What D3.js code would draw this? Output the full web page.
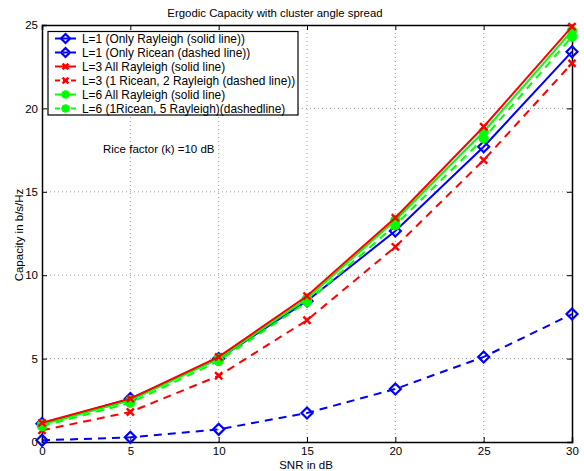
<!DOCTYPE html>
<html><head><meta charset="utf-8">
<script src="https://cdn.jsdelivr.net/npm/d3@7"></script>
<style>body{margin:0;background:#fff}svg{display:block}text{font-family:"Liberation Sans",Arial,sans-serif}</style>
</head><body>
<script>
const snr = [0, 5, 10, 15, 20, 25, 30];
const l1Rayleigh = [1.1, 2.6, 5.0, 8.45, 12.65, 17.7, 23.4];
const l1Ricean = [0.1, 0.28, 0.76, 1.74, 3.18, 5.1, 7.67];
const l3Rayleigh = [1.15, 2.6, 5.1, 8.75, 13.45, 18.9, 24.9];
const l3Mixed = [0.7, 1.8, 3.97, 7.3, 11.7, 16.9, 22.7];
const l6Rayleigh = [1.05, 2.5, 5.0, 8.6, 13.3, 18.6, 24.65];
const l6Mixed = [0.95, 2.35, 4.85, 8.4, 13.0, 18.2, 24.3];
const xTicks = [0, 5, 10, 15, 20, 25, 30];
const yTicks = [0, 5, 10, 15, 20, 25];
const seriesNames = ["L=1 (Only Rayleigh (solid line))","L=1 (Only Ricean (dashed line))","L=3 All Rayleigh (solid line)","L=3 (1 Ricean, 2 Rayleigh (dashed line))","L=6 All Rayleigh (solid line)","L=6 (1Ricean, 5 Rayleigh)(dashedline)"];
const seriesValues = [l1Rayleigh, l1Ricean, l3Rayleigh, l3Mixed, l6Rayleigh, l6Mixed];
const seriesColors = ["#0000ff","#0000ff","#ff0000","#ff0000","#00ff00","#00ff00"];
const seriesDashed = [false,true,false,true,false,true];
const seriesMarker = ["diamond","diamond","x","x","circle","circle"];

const W=584,H=471, L=42,R=572,T=25,B=442;
const svg=d3.select("body").append("svg").attr("width",W).attr("height",H);
const x=d3.scaleLinear().domain([0,30]).range([L,R]);
const y=d3.scaleLinear().domain([0,25]).range([B,T]);

const g=svg.append("g");
g.selectAll(".gx").data(xTicks.slice(1,-1)).join("line").attr("x1",d=>x(d)).attr("x2",d=>x(d)).attr("y1",T).attr("y2",B).attr("stroke","#999").attr("stroke-width",1).attr("stroke-dasharray","1,3");
g.selectAll(".gy").data(yTicks.slice(1,-1)).join("line").attr("y1",d=>y(d)).attr("y2",d=>y(d)).attr("x1",L).attr("x2",R).attr("stroke","#999").attr("stroke-width",1).attr("stroke-dasharray","1,3");

const xa=svg.append("g").attr("transform",`translate(0,${B})`).call(d3.axisBottom(x).tickValues(xTicks).tickSize(-5).tickPadding(5));
const xa2=svg.append("g").attr("transform",`translate(0,${T})`).call(d3.axisTop(x).tickValues(xTicks).tickSize(-5).tickFormat(""));
const ya=svg.append("g").attr("transform",`translate(${L},0)`).call(d3.axisLeft(y).tickValues(yTicks).tickSize(-5).tickPadding(4));
const ya2=svg.append("g").attr("transform",`translate(${R},0)`).call(d3.axisRight(y).tickValues(yTicks).tickSize(-5).tickFormat(""));
[xa,xa2,ya,ya2].forEach(a=>{a.select(".domain").attr("stroke","#000").attr("stroke-width",1.5);a.selectAll("line").attr("stroke","#000");a.selectAll("text").attr("font-size",11.5).attr("fill","#000").attr("font-family","Liberation Sans, Arial, sans-serif");});

function marker(sel,type,color,size){
  if(type==="diamond"){
    sel.append("path").attr("d",`M0,${-size}L${size},0L0,${size}L${-size},0Z`).attr("fill","none").attr("stroke",color).attr("stroke-width",2.2);
  } else if(type==="x"){
    const s=size*0.65;
    sel.append("path").attr("d",`M${-s},${-s}L${s},${s}M${-s},${s}L${s},${-s}`).attr("stroke",color).attr("stroke-width",2.4);
  } else {
    sel.append("circle").attr("r",size*0.85).attr("fill",color).attr("stroke",color);
  }
}

const line=d3.line().x((d,i)=>x(snr[i])).y(d=>y(d));
const plot=svg.append("g");
const order=[1,3,0,5,4,2];
order.forEach(k=>{
  plot.append("path").attr("d",line(seriesValues[k])).attr("fill","none").attr("stroke",seriesColors[k]).attr("stroke-width",2).attr("stroke-dasharray",seriesDashed[k]?"8,6":null);
  seriesValues[k].forEach((v,i)=>{
    const m=plot.append("g").attr("transform",`translate(${x(snr[i])},${y(v)})`);
    marker(m,seriesMarker[k],seriesColors[k],5.5);
  });
});

const lg=svg.append("g");
lg.append("rect").attr("x",48).attr("y",31.5).attr("width",250).attr("height",83.5).attr("fill","#fff").attr("stroke","#000").attr("stroke-width",1.2);
seriesNames.forEach((n,i)=>{
  const cy=38.5+i*14;
  lg.append("line").attr("x1",55).attr("x2",76).attr("y1",cy).attr("y2",cy).attr("stroke",seriesColors[i]).attr("stroke-width",2).attr("stroke-dasharray",seriesDashed[i]?"5,3":null);
  marker(lg.append("g").attr("transform",`translate(65.5,${cy})`),seriesMarker[i],seriesColors[i],4.5);
  lg.append("text").attr("x",82).attr("y",cy+4.2).attr("font-size",11.9).text(n);
});

svg.append("text").attr("x",275).attr("y",17).attr("text-anchor","middle").attr("font-size",11.4).text("Ergodic Capacity with cluster angle spread");
svg.append("text").attr("x",103).attr("y",153).attr("font-size",11.5).text("Rice factor (k) =10 dB");
svg.append("text").attr("x",306).attr("y",469).attr("text-anchor","middle").attr("font-size",11.5).text("SNR in dB");
svg.append("text").attr("transform","translate(19,235) rotate(-90)").attr("text-anchor","middle").attr("dy","0.35em").attr("font-size",11.5).text("Capacity in b/s/Hz");
</script>
</body></html>
